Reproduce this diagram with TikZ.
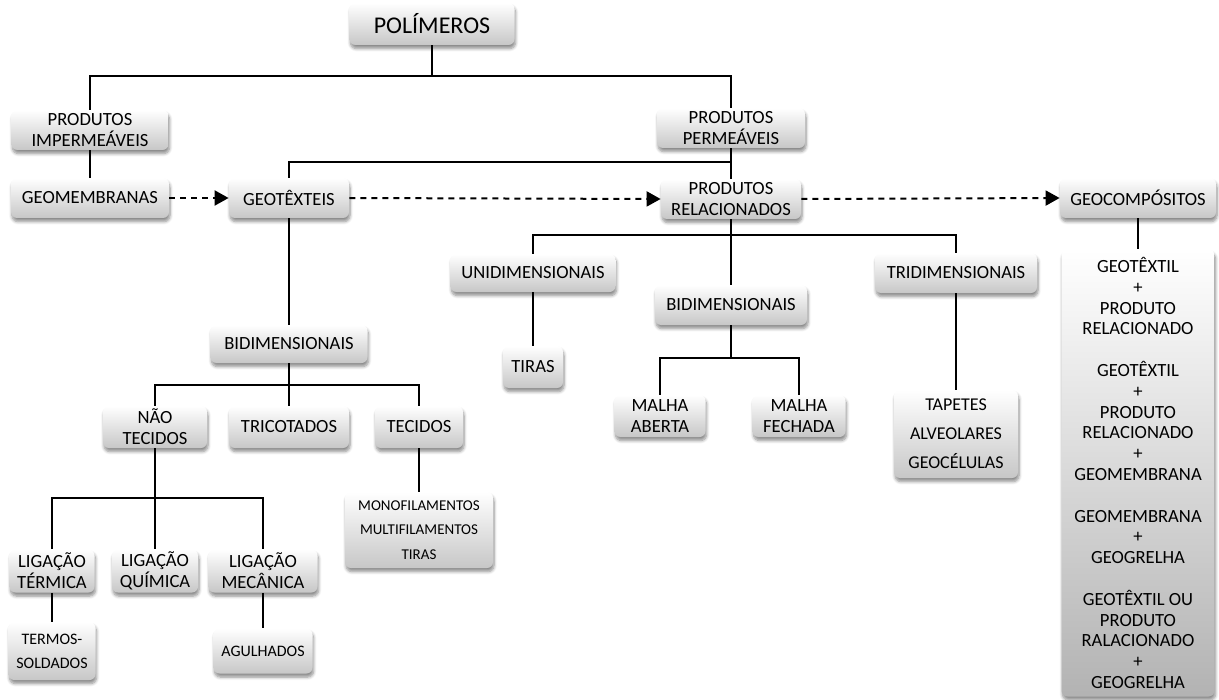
\documentclass[tikz,border=0pt]{standalone}
\usepackage{fontspec}
\setmainfont{Carlito}
\usetikzlibrary{arrows.meta,shadows.blur}

\begin{document}
\begin{tikzpicture}[x=0.5pt, y=-0.5pt,
    caixa/.style={blur shadow={shadow xshift=0.5pt, shadow yshift=-1.8pt, shadow blur radius=1.5pt, shadow blur steps=6, shadow opacity=45}, rounded corners=3pt, top color=white, bottom color=black!22, align=center, inner sep=1pt, font=\fontsize{9.3}{10.4}\selectfont},
    tam/.style 2 args={minimum width=#1*0.5pt, minimum height=#2*0.5pt},
    liga/.style={line width=1pt},
    tracejada/.style={line width=1pt, dash pattern=on 3pt off 2.5pt, -{Triangle[length=7pt, width=7.5pt]}}]
    \useasboundingbox (0,0) rectangle (1219,700);
    \node[caixa, tam={165}{42}, font=\fontsize{12}{14}\selectfont] (pol) at (432,24){POLÍMEROS};
    \node[caixa, tam={157}{40}] (pi) at (90,130){PRODUTOS\\IMPERMEÁVEIS};
    \node[caixa, tam={158}{40}] (geom) at (90,198){GEOMEMBRANAS};
    \node[caixa, tam={120}{40}] (geot) at (289,198){GEOTÊXTEIS};
    \node[caixa, tam={148}{40}] (pp) at (731,128){PRODUTOS\\PERMEÁVEIS};
    \node[caixa, tam={140}{40}] (pr) at (731,199){PRODUTOS\\RELACIONADOS};
    \node[caixa, tam={156}{40}] (geoc) at (1138,198){GEOCOMPÓSITOS};
    \node[caixa, tam={165}{38}] (uni) at (533,273){UNIDIMENSIONAIS};
    \node[caixa, tam={60}{42}] (tiras) at (533,367){TIRAS};
    \node[caixa, tam={152}{40}] (bid2) at (731,305){BIDIMENSIONAIS};
    \node[caixa, tam={91}{42}] (ma) at (660,416){MALHA\\ABERTA};
    \node[caixa, tam={93}{42}] (mf) at (799,416){MALHA\\FECHADA};
    \node[caixa, tam={162}{40}] (tri) at (956,273){TRIDIMENSIONAIS};
    \node[caixa, tam={124}{88}, font=\fontsize{9}{14.5}\selectfont] (tap) at (956,434){TAPETES\\ALVEOLARES\\GEOCÉLULAS};
    \node[caixa, tam={157}{38}] (bid1) at (289,344){BIDIMENSIONAIS};
    \node[caixa, tam={104}{42}] (nao) at (155,427){NÃO\\TECIDOS};
    \node[caixa, tam={120}{42}] (tric) at (289,427){TRICOTADOS};
    \node[caixa, tam={88}{42}] (tec) at (419,427){TECIDOS};
    \node[caixa, tam={148}{76}, font=\fontsize{7.5}{12.3}\selectfont] (mono) at (419,530){MONOFILAMENTOS\\MULTIFILAMENTOS\\TIRAS};
    \node[caixa, tam={85}{43}] (lt) at (52,571){LIGAÇÃO\\TÉRMICA};
    \node[caixa, tam={86}{43}] (lq) at (155,571){LIGAÇÃO\\QUÍMICA};
    \node[caixa, tam={109}{43}] (lm) at (263,571){LIGAÇÃO\\MECÂNICA};
    \node[caixa, tam={87}{58}, font=\fontsize{8}{12}\selectfont] (ts) at (52,651){TERMOS-\\SOLDADOS};
    \node[caixa, tam={99}{45}, font=\fontsize{8}{10}\selectfont] (agu) at (263,651){AGULHADOS};
    \node[caixa, tam={153}{447}, bottom color=black!30] (comp) at (1138,473){GEOTÊXTIL\\+\\PRODUTO\\RELACIONADO\\[10.4pt]GEOTÊXTIL\\+\\PRODUTO\\RELACIONADO\\+\\GEOMEMBRANA\\[10.4pt]GEOMEMBRANA\\+\\GEOGRELHA\\[10.4pt]GEOTÊXTIL OU\\PRODUTO\\RALACIONADO\\+\\GEOGRELHA};
    \coordinate (j1) at (432,76);
    \coordinate (j2) at (731,162);
    \coordinate (j3) at (731,235);
    \coordinate (j4) at (731,358);
    \coordinate (j5) at (289,385);
    \coordinate (j6) at (155,498);
    \draw[liga] (pol.south)--(j1);
    \draw[liga] (pi.north) |- (j1) -| (pp.north);
    \draw[liga] (pi.south)--(geom.north);
    \draw[liga] (pp.south)--(pr.north);
    \draw[liga] (geot.north) |- (j2);
    \draw[liga] (pr.south)--(bid2.north);
    \draw[liga] (uni.north) |- (j3) -| (tri.north);
    \draw[liga] (uni.south)--(tiras.north);
    \draw[liga] (bid2.south)--(j4);
    \draw[liga] (ma.north) |- (j4) -| (mf.north);
    \draw[liga] (tri.south)--(tap.north);
    \draw[liga] (geoc.south)--(comp.north);
    \draw[liga] (geot.south)--(bid1.north);
    \draw[liga] (bid1.south)--(tric.north);
    \draw[liga] (nao.north) |- (j5) -| (tec.north);
    \draw[liga] (tec.south)--(mono.north);
    \draw[liga] (nao.south)--(lq.north);
    \draw[liga] (lt.north) |- (j6) -| (lm.north);
    \draw[liga] (lt.south)--(ts.north);
    \draw[liga] (lm.south)--(agu.north);
    \draw[tracejada] (geom.east)--(geot.west);
    \draw[tracejada] (geot.east)--(pr.west);
    \draw[tracejada] (pr.east)--(geoc.west);
  \end{tikzpicture}
\end{document}
